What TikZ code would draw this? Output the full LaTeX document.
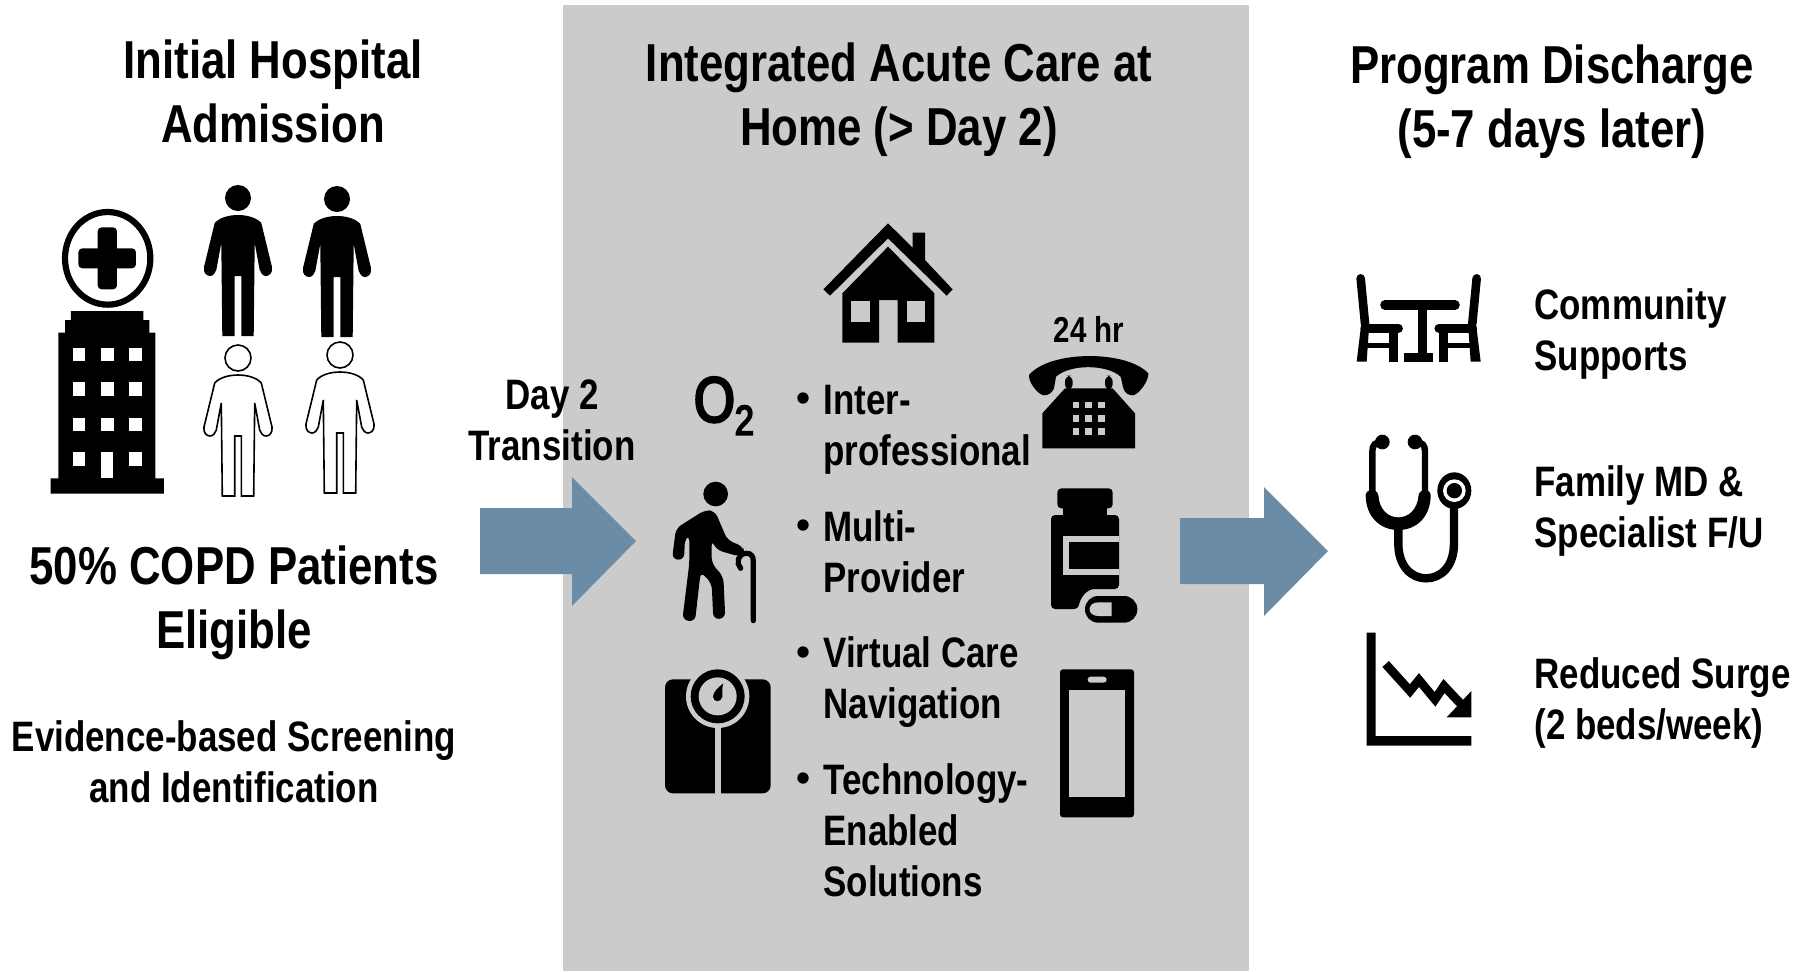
\documentclass[tikz,border=0pt]{standalone}
\usepackage{fontspec}
\setmainfont[FakeStretch=0.82]{Liberation Sans}
\newfontfamily\plainfont[FakeStretch=0.82,FakeBold=4]{Liberation Sans}
\usepackage{tikz}
\pgfdeclarelayer{background}
\pgfsetlayers{background,main}
\definecolor{panelgray}{HTML}{CBCBCB}
\definecolor{arrowblue}{HTML}{6A8CA6}
\begin{document}
\begin{tikzpicture}[
	x=0.5pt,y=-0.5pt,
	headtext/.style={align=center, inner sep=0, font=\fontsize{26.7}{32}\selectfont\bfseries},
	midtext/.style={align=center, inner sep=0, font=\fontsize{21.3}{25.5}\selectfont\bfseries},
	itemtext/.style={align=left, inner sep=0, anchor=west, font=\fontsize{21.3}{25.5}\selectfont\bfseries},
	itemdot/.style={circle, fill=black, inner sep=0, minimum size=5.7pt},
	cutout/.style={fill=panelgray},
	zoomtwo/.style={shift={(650,210)},scale=1/3},
	zoomthree/.style={shift={(650,470)},scale=1/3},
	zoomfour/.style={shift={(1340,260)},scale=1/3},
	zoomone/.style={shift={(30,170)},scale=1/3},
	person/.pic={
		\path[pic actions] (0,13) circle (13);
		\path[pic actions] (0,30) .. controls (10,30) and (19,33) .. (23.3,38) -- (34,82) .. controls (35,88) and (31,91) .. (28,91) .. controls (25,91) and (22.5,88) .. (21.7,85) -- (16.7,58) -- (15.7,151) -- (3.3,151) -- (3.3,91) -- (-3.3,91) -- (-3.3,151) -- (-15.7,151) -- (-16.7,58) -- (-21.7,85) .. controls (-22.5,88) and (-25,91) .. (-28,91) .. controls (-31,91) and (-35,88) .. (-34,82) -- (-23.3,38) .. controls (-19,33) and (-10,30) .. (0,30) -- cycle;
	},
	]
	\useasboundingbox (0,0) rectangle (1806,971);
	\begin{pgfonlayer}{background}
	\fill[panelgray] (563,5) rectangle (1249,971);
	\end{pgfonlayer}

	%Nodes
	\node[headtext] (admission) at (273,91) {Initial Hospital\\Admission};
	\node[headtext] (acute)     at (899,100) {Integrated Acute Care at\\Home (> Day 2)};
	\node[headtext] (discharge) at (1552,102) {Program Discharge\\(5-7 days later)};
	\node[headtext] (eligible)  at (234,603) {50\% COPD Patients\\Eligible};
	\node[midtext]  (screening) at (234,762) {Evidence-based Screening\\and Identification};
	\node[midtext]  (transition) at (552,420) {Day 2\\Transition};
	\node[midtext, font=\fontsize{18}{20}\selectfont\bfseries] (hours) at (1089,329) {24 hr};
	\node[inner sep=0, font=\fontsize{32}{32}\selectfont\plainfont] (oxygen) at (724,406) {O\raisebox{-6.5pt}{\fontsize{21}{21}\selectfont 2}};

	\node[itemdot] (dot1) at (803,398) {};
	\node[itemdot] (dot2) at (803,525) {};
	\node[itemdot] (dot3) at (803,652) {};
	\node[itemdot] (dot4) at (803,778) {};
	\node[itemtext] (item1) at (823,430) {Inter-\\professional};
	\node[itemtext] (item2) at (823,552) {Multi-\\Provider};
	\node[itemtext] (item3) at (823,682) {Virtual Care\\Navigation};
	\node[itemtext] (item4) at (823,830) {Technology-\\Enabled\\Solutions};

	\node[itemtext] (support) at (1534,334) {Community\\Supports};
	\node[itemtext] (family)  at (1534,511) {Family MD \&\\Specialist F/U};
	\node[itemtext] (surge)   at (1534,703) {Reduced Surge\\(2 beds/week)};

	%Arrows
	\fill[arrowblue] (480,508) -- (572,508) -- (572,477) -- (636,541) -- (572,606) -- (572,574) -- (480,574) -- cycle;
	\fill[arrowblue] (1180,518) -- (1264,518) -- (1264,487) -- (1328,551) -- (1264,616) -- (1264,584) -- (1180,584) -- cycle;

	%People
	\pic[fill=black] (solida) at (238,185) {person};
	\pic[fill=black] (solidb) at (337,186) {person};
	\pic[draw=black, line width=0.8pt, fill=white] (opena) at (238,345) {person};
	\pic[draw=black, line width=0.8pt, fill=white] (openb) at (340,342) {person};

	%Hospital
	\begin{scope}[zoomone]
	\draw[line width=3.1pt] (233,265) ellipse (128 and 139);
	\fill[rounded corners=2pt] (203,172) rectangle (261,358);
	\fill[rounded corners=2pt] (145,235) rectangle (318,295);
	\fill (123,423) -- (340,423) -- (340,450) -- (358,450) -- (358,488) -- (376,488) -- (376,925) -- (402,925) -- (402,971) -- (62,971) -- (62,925) -- (85,925) -- (85,488) -- (105,488) -- (105,450) -- (123,450) -- cycle;
	\foreach \x in {128,213,297}
		\foreach \y in {534,637,743}
			\fill[white] (\x,\y) rectangle +(38,40);
	\fill[white] (128,847) rectangle +(38,40);
	\fill[white] (297,847) rectangle +(38,40);
	\fill[white] (213,847) rectangle (250,925);
	\end{scope}

	%House
	\begin{scope}[zoomtwo]
	\fill (714,40) -- (788,113) -- (788,68) -- (825,68) -- (825,150) -- (908,238) -- (890,257) -- (714,85) -- (540,257) -- (520,238) -- cycle;
	\fill (714,110) -- (853,250) -- (853,398) -- (743,398) -- (743,270) -- (687,270) -- (687,398) -- (577,398) -- (577,250) -- cycle;
	\fill[cutout] (603,272) rectangle (659,335);
	\fill[cutout] (770,272) rectangle (826,335);

	%Telephone
	\fill (1137,495) .. controls (1200,420) and (1430,420) .. (1495,490) .. controls (1497,510) and (1470,550) .. (1450,556) .. controls (1435,556) and (1425,550) .. (1420,535) -- (1412,500) .. controls (1370,462) and (1260,462) .. (1218,500) -- (1212,535) .. controls (1205,550) and (1195,556) .. (1180,556) .. controls (1160,550) and (1135,515) .. (1137,495) -- cycle;
	\fill[rounded corners=3pt] (1245,540) -- (1245,497) -- (1268,497) -- (1268,540) -- cycle;
	\fill[rounded corners=3pt] (1365,540) -- (1365,497) -- (1388,497) -- (1388,540) -- cycle;
	\fill (1245,535) -- (1388,535) -- (1455,610) -- (1455,715) -- (1177,715) -- (1177,610) -- cycle;
	\foreach \x in {1268,1306,1345}
		\foreach \y in {575,615,655}
			\fill[cutout] (\x,\y) rectangle +(20,20);

	%Walker
	\fill (197,852) circle (37);
	\fill[rounded corners=3pt] (165,900) -- (195,903) -- (232,990) -- (280,1010) -- (283,1030) -- (270,1040) -- (200,1020) -- (185,990) -- (185,1060) -- (220,1100) -- (226,1225) -- (190,1228) -- (185,1120) -- (152,1085) -- (135,1235) -- (97,1230) -- (118,1060) -- (118,975) -- (105,985) -- (102,1050) -- (66,1048) -- (78,955) -- cycle;
	\draw[line width=2.6pt, line cap=round] (272,1075) .. controls (258,1060) and (262,1030) .. (290,1030) .. controls (305,1030) and (310,1040) .. (310,1055) -- (310,1232);

	%Pill bottle
	\fill[rounded corners=2pt] (1222,835) rectangle (1388,895);
	\fill (1240,890) rectangle (1370,920);
	\fill[rounded corners=2pt] (1203,1197) -- (1203,915) -- (1407,915) -- (1407,1137) -- (1345,1137) .. controls (1310,1137) and (1290,1165) .. (1285,1197) -- cycle;
	\fill[cutout] (1240,978) rectangle (1407,1095);
	\fill (1258,996) rectangle (1407,1077);
	\fill[rounded corners=6.6pt] (1305,1158) rectangle (1462,1238);
	\fill[cutout] (1385,1177) -- (1345,1177) .. controls (1310,1177) and (1310,1218) .. (1345,1218) -- (1385,1218) -- cycle;
	\end{scope}

	\begin{scope}[zoomthree]
	%Bath scale
	\fill[rounded corners=4pt] (45,628) rectangle (362,970);
	\fill[cutout] (194,760) rectangle (212,975);
	\fill[cutout] (203,679) circle (95);
	\fill (203,679) circle (81);
	\fill[cutout] (203,679) circle (57);
	\fill (220,640) .. controls (215,655) and (218,668) .. (217,680) .. controls (214,698) and (190,698) .. (189,680) .. controls (190,665) and (205,652) .. (220,640) -- cycle;

	%Mobile phone
	\fill[rounded corners=1.5pt] (1230,598) rectangle (1452,1042);
	\fill[cutout] (1257,660) rectangle (1425,980);
	\fill[cutout, rounded corners=1.5pt] (1313,620) rectangle (1370,638);
	\end{scope}

	\begin{scope}[zoomfour]
	%Table and chairs
	\draw[line width=4.8pt, line cap=round] (135,135) -- (345,135);
	\fill (233,135) rectangle (262,280);
	\fill (193,278) rectangle (278,305);
	\foreach \m/\s in {0/1,472/-1}{
		\draw[line width=4.3pt, line cap=round] (\m+\s*62,55) -- (\m+\s*75,190);
		\fill (\m+\s*64,190) -- (\m+\s*88,190) -- (\m+\s*80,305) -- (\m+\s*50,305) -- cycle;
		\draw[line width=4.6pt, line cap=round] (\m+\s*75,205) -- (\m+\s*175,205);
		\fill (\m+\s*148,205) rectangle (\m+\s*175,305);
		\draw[line width=2.4pt] (\m+\s*70,257) -- (\m+\s*160,257);
	}

	%Stethoscope
	\fill (127,546) circle (22);
	\fill (225,546) circle (22);
	\draw[line width=3.2pt] (127,546) .. controls (105,546) and (97,555) .. (97,575) -- (97,700);
	\draw[line width=3.2pt] (225,546) .. controls (247,546) and (255,555) .. (255,575) -- (255,700);
	\fill (77,705) .. controls (77,770) and (120,810) .. (175,810) .. controls (230,810) and (272,770) .. (272,705) .. controls (270,685) and (240,685) .. (236,705) .. controls (232,750) and (205,772) .. (175,772) .. controls (145,772) and (118,750) .. (115,705) .. controls (110,685) and (80,685) .. (77,705) -- cycle;
	\draw[line width=4.2pt] (175,790) -- (175,850) .. controls (175,920) and (215,955) .. (258,955) .. controls (302,955) and (342,920) .. (342,850) -- (342,730);
	\fill (343,692) ellipse (51 and 55);
	\fill[white] (343,692) circle (34);
	\fill (343,692) circle (23);

	%Chart
	\fill (80,1118) -- (107,1118) -- (107,1428) -- (394,1428) -- (394,1457) -- (80,1457) -- cycle;
	\draw[line width=4.4pt, miter limit=10] (137,1212) -- (210,1293) -- (237,1260) -- (285,1318) -- (312,1278) -- (375,1345);
	\fill (394,1293) -- (394,1372) -- (320,1372) -- cycle;
	\end{scope}
\end{tikzpicture}
\end{document}
